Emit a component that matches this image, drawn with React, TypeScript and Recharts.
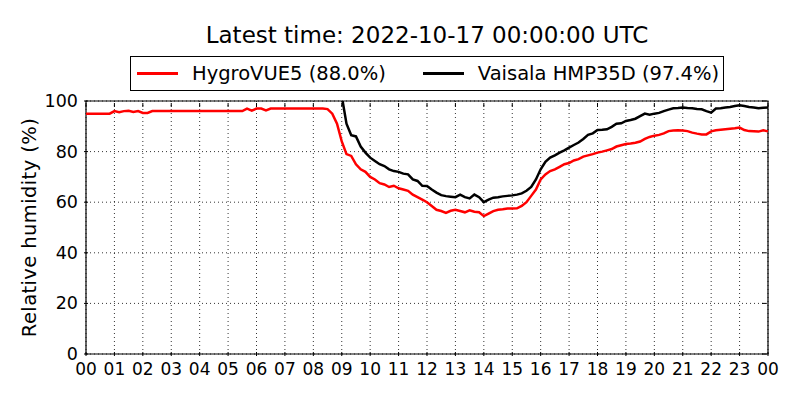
import React from "react";
import {
  LineChart,
  Line,
  XAxis,
  YAxis,
  CartesianGrid,
  Legend,
  ReferenceArea,
} from "recharts";

// readings every 10 minutes, one row per hour (00:00 .. 24:00)
const hygroVue5 = [
  95, 95, 95, 95, 95, 95,
  96, 95.6, 96, 96.1, 95.7, 96,
  95.3, 95.3, 96, 96, 96, 96,
  96, 96, 96, 96, 96, 96,
  96, 96, 96, 96, 96, 96,
  96, 96, 96, 96, 97, 96.2,
  97, 97, 96.3, 97, 97, 97,
  97, 97, 97, 97, 97, 97,
  97, 97, 97, 96.8, 95, 91,
  84, 79, 78.3, 75, 73, 72,
  70, 69, 67.5, 67, 66, 66.5,
  65.5, 65, 64.5, 63, 62, 61,
  60, 58.5, 57, 56.5, 55.8, 56.6,
  57, 56.5, 56, 56.8, 56.2, 56,
  54.5, 55.5, 56.5, 57, 57.2, 57.5,
  57.5, 57.6, 58.5, 60, 62.5, 65,
  69, 71, 72.3, 73, 74, 75,
  75.5, 76.5, 77, 78, 78.5, 79,
  79.6, 80, 80.5, 81, 82, 82.5,
  83, 83.2, 83.5, 84, 85, 85.8,
  86.3, 86.6, 87.2, 88.1, 88.3, 88.4,
  88.3, 88.1, 87.5, 87.1, 86.8, 86.8,
  88, 88.4, 88.6, 88.8, 89, 89.2,
  89.5, 88.5, 88.1, 88, 87.9, 88.4,
  88,
];

const vaisala = [
  101, 101, 101, 101, 101, 101,
  101, 101, 101, 101, 101, 101,
  101, 101, 101, 101, 101, 101,
  101, 101, 101, 101, 101, 101,
  101, 101, 101, 101, 101, 101,
  101, 101, 101, 101, 101, 101,
  101, 101, 101, 101, 101, 101,
  101, 101, 101, 101, 101, 101,
  101, 101, 101, 101, 101, 101.5,
  102, 91, 86.5, 86, 82, 79.6,
  77.6, 76.3, 75, 74.3, 73, 72.3,
  72, 71.3, 71, 69, 68.4, 66.5,
  66.4, 65, 63.8, 62.8, 62.4, 62.2,
  62, 63, 62, 61.5, 63, 62,
  60, 61, 61.8, 62, 62.3, 62.5,
  62.7, 63, 63.5, 64.5, 66, 69,
  73, 76, 77.6, 78.5, 79.6, 80.5,
  81.6, 82.6, 83.6, 85, 86.6, 87.2,
  88.5, 88.6, 88.8, 89.8, 91, 91.2,
  92.1, 92.5, 93, 94, 95, 94.6,
  95, 95.3, 96, 96.6, 97.1, 97.2,
  97.4, 97.2, 97.1, 96.8, 96.7, 96,
  95.4, 97, 97.1, 97.4, 97.6, 98,
  98.3, 98, 97.6, 97.4, 97.1, 97.3,
  97.4,
];

const hourTicks = [
  0, 1, 2, 3, 4, 5, 6, 7, 8, 9, 10, 11, 12, 13, 14, 15, 16, 17, 18, 19, 20,
  21, 22, 23, 24,
];
const rhTicks = [0, 20, 40, 60, 80, 100];

const seriesNames = ["HygroVUE5 (88.0%)", "Vaisala HMP35D (97.4%)"];
const seriesColors = ["#ff0000", "#000000"];

const data = hygroVue5.map((v, i) => ({
  t: i / 6,
  hygro: v,
  vaisala: vaisala[i],
}));

const FONT = "'DejaVu Sans', sans-serif";
const PLOT_W = 682;
const PLOT_H = 253;

// matplotlib style: ticks point inwards, on all four sides
const XTick = (props: any) => {
  const { x, y, payload } = props;
  const label = String(payload.value % 24).padStart(2, "0");
  return (
    <g>
      <line x1={x} y1={y} x2={x} y2={y - 4} stroke="#000" />
      <line x1={x} y1={y - PLOT_H} x2={x} y2={y - PLOT_H + 4} stroke="#000" />
      <text
        x={x}
        y={y + 19}
        textAnchor="middle"
        fontSize={17}
        fontFamily={FONT}
        fill="#000"
      >
        {label}
      </text>
    </g>
  );
};

const YTick = (props: any) => {
  const { x, y, payload } = props;
  return (
    <g>
      <line x1={x} y1={y} x2={x + 4} y2={y} stroke="#000" />
      <line x1={x + PLOT_W} y1={y} x2={x + PLOT_W - 4} y2={y} stroke="#000" />
      <text
        x={x - 6}
        y={y + 6}
        textAnchor="end"
        fontSize={17.5}
        fontFamily={FONT}
        fill="#000"
      >
        {payload.value}
      </text>
    </g>
  );
};

const YLabel = (props: any) => {
  const { viewBox } = props;
  const cx = viewBox.x + 3;
  const cy = viewBox.y + viewBox.height / 2;
  return (
    <text
      x={cx}
      y={cy}
      transform={`rotate(-90 ${cx} ${cy})`}
      textAnchor="middle"
      dominantBaseline="central"
      fontSize={19.5}
      letterSpacing={0.4}
      fontFamily={FONT}
      fill="#000"
    >
      Relative humidity (%)
    </text>
  );
};

const legendBox = () => (
  <div
    style={{
      border: "1px solid #000",
      background: "#fff",
      height: 35,
      boxSizing: "border-box",
      display: "flex",
      alignItems: "center",
      fontFamily: FONT,
      fontSize: 19.5,
      color: "#000",
    }}
  >
    {seriesNames.map((name, i) => (
      <div
        key={name}
        style={{
          display: "flex",
          alignItems: "center",
          marginLeft: i === 0 ? 6 : 37,
        }}
      >
        <span
          style={{
            display: "inline-block",
            width: 41,
            height: 3,
            background: seriesColors[i],
            marginRight: 14,
          }}
        />
        <span>{name}</span>
      </div>
    ))}
  </div>
);

export default function App() {
  return (
    <div style={{ position: "absolute", left: 0, top: 0, width: 800, height: 400, background: "#fff" }}>
      <div
        style={{
          position: "absolute",
          left: 86,
          width: 682,
          top: 22,
          textAlign: "center",
          fontFamily: FONT,
          fontSize: 23,
          color: "#000",
          lineHeight: "26px",
        }}
      >
        Latest time: 2022-10-17 00:00:00 UTC
      </div>
      <LineChart
        width={800}
        height={400}
        data={data}
        margin={{ top: 101, right: 32, bottom: 16, left: 26 }}
      >
        <CartesianGrid
          stroke="#000"
          strokeWidth={0.8}
          strokeDasharray="1 3"
          verticalValues={hourTicks}
          horizontalValues={rhTicks}
        />
        <XAxis
          dataKey="t"
          type="number"
          domain={[0, 24]}
          ticks={hourTicks}
          interval={0}
          tickSize={0}
          tickLine={false}
          axisLine={false}
          height={30}
          tick={<XTick />}
        />
        <YAxis
          type="number"
          domain={[0, 100]}
          ticks={rhTicks}
          allowDataOverflow
          tickSize={0}
          tickLine={false}
          axisLine={false}
          width={60}
          tick={<YTick />}
          label={<YLabel />}
        />
        <Line
          type="linear"
          dataKey="hygro"
          name={seriesNames[0]}
          stroke={seriesColors[0]}
          strokeWidth={2.5}
          dot={false}
          isAnimationActive={false}
        />
        <Line
          type="linear"
          dataKey="vaisala"
          name={seriesNames[1]}
          stroke={seriesColors[1]}
          strokeWidth={2.5}
          dot={false}
          isAnimationActive={false}
        />
        <ReferenceArea
          x1={0}
          x2={24}
          y1={0}
          y2={100}
          fill="none"
          stroke="#000"
          strokeWidth={1.2}
          ifOverflow="visible"
        />
        <Legend
          layout="horizontal"
          verticalAlign="middle"
          align="center"
          content={legendBox}
          wrapperStyle={{ top: 56, left: 130, width: 594, height: 35 }}
        />
      </LineChart>
    </div>
  );
}
